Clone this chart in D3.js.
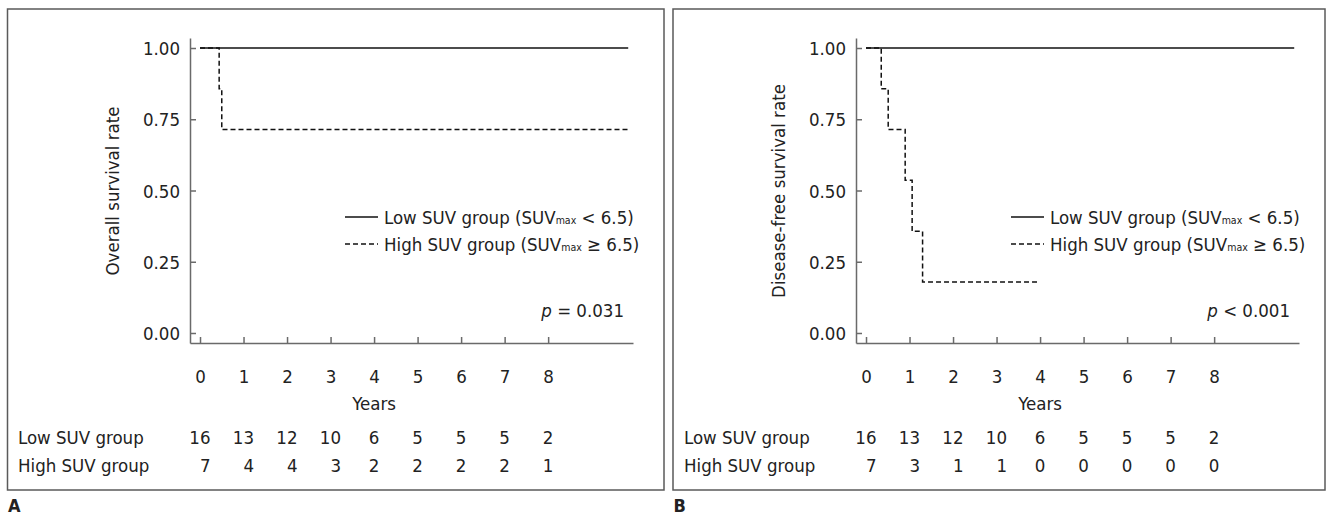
<!DOCTYPE html>
<html>
<head>
<meta charset="utf-8">
<script src="https://cdn.jsdelivr.net/npm/d3@7"></script>
<style>
  body { margin: 0; background: #fff; }
  svg text { font-family: "DejaVu Sans Condensed", "Liberation Sans", sans-serif; fill: #222; }
  .axis path, .axis line { stroke: #6a6a6a; stroke-width: 1.5; }
  .axis text { font-size: 18.5px; }
</style>
</head>
<body>
<script>
// years shown on the x axis and in the risk table
const yearTicks = [0, 1, 2, 3, 4, 5, 6, 7, 8];
const survTicks = [0, 0.25, 0.5, 0.75, 1];

// Kaplan-Meier steps (time in years, survival)
const osLowTimes = [0, 9.84];
const osLowSurv = [1, 1];
const osHighTimes = [0, 0.44, 0.50, 9.84];
const osHighSurv = [1, 0.857, 0.714, 0.714];

const dfsLowTimes = [0, 9.84];
const dfsLowSurv = [1, 1];
const dfsHighTimes = [0, 0.35, 0.51, 0.90, 1.06, 1.30, 3.95];
const dfsHighSurv = [1, 0.857, 0.714, 0.536, 0.357, 0.179, 0.179];

// numbers at risk
const osLowRisk = [16, 13, 12, 10, 6, 5, 5, 5, 2];
const osHighRisk = [7, 4, 4, 3, 2, 2, 2, 2, 1];
const dfsLowRisk = [16, 13, 12, 10, 6, 5, 5, 5, 2];
const dfsHighRisk = [7, 3, 1, 1, 0, 0, 0, 0, 0];

const groupNames = ["Low SUV group", "High SUV group"];
const fs = "18.5px";

const svg = d3.select("body").append("svg")
    .attr("width", 1333)
    .attr("height", 515);

function zip(times, surv) {
    return times.map(function(t, i) { return { t: t, s: surv[i] }; });
}

function drawPanel(opt) {
    const ox = opt.offset;
    const g = svg.append("g").attr("transform", `translate(${ox},0)`);

    // frame
    svg.append("rect")
        .attr("x", opt.box[0]).attr("y", 9)
        .attr("width", opt.box[1] - opt.box[0]).attr("height", 481)
        .attr("fill", "none").attr("stroke", "#5a5a5a").attr("stroke-width", 1.5);

    const x = d3.scaleLinear().domain([-0.23, 9.95]).range([190, 633]);
    const y = d3.scaleLinear().domain([-0.0351, 1.0351]).range([343, 38]);

    g.append("g")
        .attr("class", "axis")
        .attr("transform", "translate(0,343)")
        .call(d3.axisBottom(x).tickValues(yearTicks).tickSizeInner(-6).tickSizeOuter(0).tickPadding(27))
        .call(function(a) { a.selectAll("text").attr("fill", "#222"); });

    g.append("g")
        .attr("class", "axis")
        .attr("transform", "translate(190,0)")
        .call(d3.axisLeft(y).tickValues(survTicks).tickFormat(d3.format(".2f"))
            .tickSizeInner(-6).tickSizeOuter(0).tickPadding(10))
        .call(function(a) { a.selectAll("text").attr("fill", "#222").attr("dy", "0.36em"); });

    const line = d3.line()
        .x(function(d) { return x(d.t); })
        .y(function(d) { return y(d.s); })
        .curve(d3.curveStepAfter);

    g.append("path")
        .datum(zip(opt.lowTimes, opt.lowSurv))
        .attr("d", line)
        .attr("fill", "none").attr("stroke", "#111").attr("stroke-width", 1.5);

    g.append("path")
        .datum(zip(opt.highTimes, opt.highSurv))
        .attr("d", line)
        .attr("fill", "none").attr("stroke", "#111").attr("stroke-width", 1.5)
        .attr("stroke-dasharray", "5,3");

    // y label
    g.append("text")
        .attr("transform", "translate(119,191) rotate(-90)")
        .attr("text-anchor", "middle")
        .style("font-size", fs)
        .text(opt.yLabel);

    g.append("text")
        .attr("x", x(4)).attr("y", 410)
        .attr("text-anchor", "middle")
        .style("font-size", fs)
        .text("Years");

    // legend
    const legend = [
        { dash: null, name: groupNames[0], op: "< 6.5)" },
        { dash: "5,3", name: groupNames[1], op: "≥ 6.5)" }
    ];
    legend.forEach(function(d, i) {
        const ly = 217 + i * 27;
        g.append("line")
            .attr("x1", 345).attr("x2", 378).attr("y1", ly).attr("y2", ly)
            .attr("stroke", "#111").attr("stroke-width", 1.5)
            .attr("stroke-dasharray", d.dash);
        const t = g.append("text")
            .attr("x", 384).attr("y", ly + 6.5)
            .style("font-size", fs);
        t.append("tspan").text(d.name + " (SUV");
        t.append("tspan").style("font-size", "10.5px").text("max");
        t.append("tspan").text(" " + d.op);
    });

    // p value
    const p = g.append("text")
        .attr("x", 624).attr("y", 317)
        .attr("text-anchor", "end")
        .style("font-size", fs);
    p.append("tspan").style("font-style", "italic").text("p");
    p.append("tspan").text(opt.pText);

    // risk table
    const rows = [opt.lowRisk, opt.highRisk];
    const rowY = [444, 472];
    rows.forEach(function(vals, r) {
        g.append("text")
            .attr("x", 18).attr("y", rowY[r])
            .style("font-size", fs)
            .text(groupNames[r]);
        g.selectAll(null)
            .data(vals)
            .enter()
            .append("text")
            .attr("x", function(v, i) {
                const wide = rows.some(function(rr) { return rr[i] >= 10; });
                return x(yearTicks[i]) + (wide ? 10.5 : 5.3);
            })
            .attr("y", rowY[r])
            .attr("text-anchor", "end")
            .style("font-size", fs)
            .text(function(v) { return v; });
    });

    svg.append("text")
        .attr("x", opt.box[0] + 0.5).attr("y", 512)
        .style("font-size", "18px").style("font-weight", "bold")
        .text(opt.letter);
}

drawPanel({
    offset: 0, box: [7.5, 664], letter: "A",
    yLabel: "Overall survival rate", pText: " = 0.031",
    lowTimes: osLowTimes, lowSurv: osLowSurv,
    highTimes: osHighTimes, highSurv: osHighSurv,
    lowRisk: osLowRisk, highRisk: osHighRisk
});

drawPanel({
    offset: 666, box: [673, 1325], letter: "B",
    yLabel: "Disease-free survival rate", pText: " < 0.001",
    lowTimes: dfsLowTimes, lowSurv: dfsLowSurv,
    highTimes: dfsHighTimes, highSurv: dfsHighSurv,
    lowRisk: dfsLowRisk, highRisk: dfsHighRisk
});
</script>
</body>
</html>
